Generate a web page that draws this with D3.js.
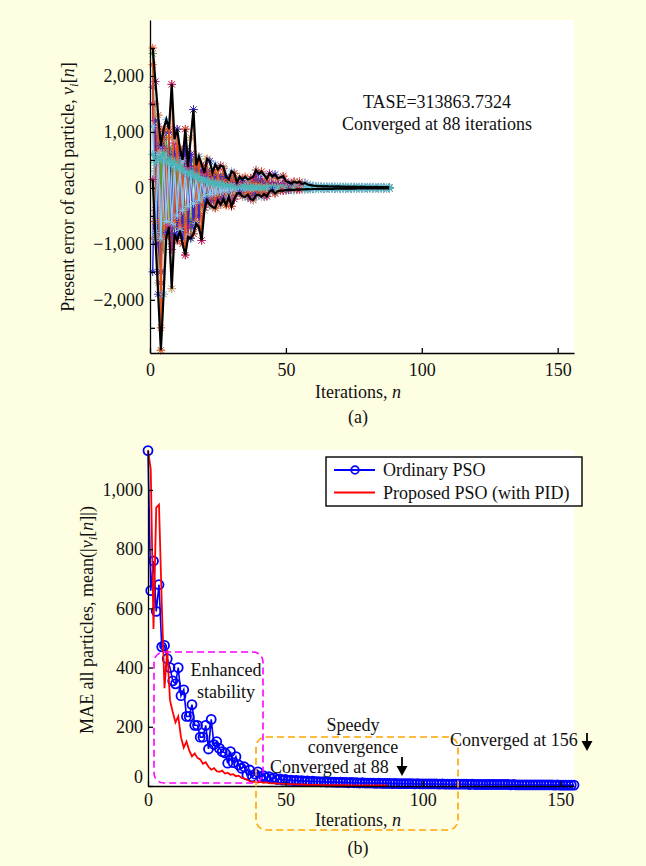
<!DOCTYPE html>
<html><head><meta charset="utf-8">
<script src="https://cdn.jsdelivr.net/npm/d3@7"></script>
<style>
html,body{margin:0;padding:0;background:#FEFEE2;}
svg{display:block;}
text{font-family:'Liberation Serif','Times New Roman',serif;font-size:18px;fill:#111;}
</style></head><body>
<svg id="c" width="646" height="866"></svg>
<script>
// ---------------- DATA (a): present error of each particle, iterations 1..88 ----------------
const pGreen = [2400,300,-1500,600,-1100,1000,-600,700,-820,500,
 -760,400,-600,300,-900,500,-640,400,-300,200,
 -220,300,-340,250,-220,200,-200,150,-160,200,
 -200,80,-90,100,-160,100,-200,150,-130,150,
 -160,100,-150,80,-40,60,-60,40,-50,30,
 -35,25,-40,20,-30,18,-28,15,-24,12,
 -20,10,-19,9,-17,8,-16,7,-15,6,
 -14,5,-13,5,-12,4,-11,4,-11,3,
 -10,3,-10,3,-9,2,-9,2];
const pTan = [-900,1500,-1700,-2900,-1900,600,-700,-1800,500,-700,
 600,-500,400,-500,300,-400,250,-300,200,-250,
 150,-150,100,-100,80,-80,60,-60,50,-50,
 40,-40,30,-30,25,-25,20,-20,15,-15,
 12,-12,10,-10,8,-8,6,-6,5,-5,
 4,-4,3,-3,3,-3,2,-2,2,-2,
 2,-2,1,-1,1,-1,1,-1,1,-1,
 1,-1,1,-1,1,-1,1,-1,1,-1,
 1,-1,1,-1,1,-1,1,-1];
const pPurple = [1800,-600,1100,-1700,1000,-880,1000,-1000,800,-900,
 600,-1000,600,-880,500,-820,380,-700,400,-400,
 300,-220,250,-250,200,-300,180,-200,120,-150,
 100,-100,150,-90,90,-160,80,-100,70,-90,
 60,-80,50,-60,40,-40,30,-50,30,-40,
 20,-30,20,-20,15,-15,10,-10,8,-8,
 6,-6,5,-5,4,-4,3,-3,3,-3,
 2,-2,2,-2,2,-2,1,-1,1,-1,
 1,-1,1,-1,1,-1,1,-1];
const pMagenta = [1500,-400,900,-1500,700,-880,1000,-1100,870,-940,
 700,-800,1050,-700,600,-650,300,-500,300,-300,
 200,-300,150,-280,200,-300,350,-200,100,-330,
 260,-60,100,-150,160,-120,170,-216,320,-100,
 290,-160,160,-60,200,-100,170,-50,210,-40,
 100,-30,110,-28,110,-25,90,-20,50,-15,
 30,-12,25,-10,20,-10,15,-8,12,-8,
 10,-6,8,-6,8,-5,6,-5,6,-4,
 5,-4,5,-3,4,-3,3,-2];
const pBlue = [-1500,1200,-1000,-1500,900,-800,1000,-700,600,-900,
 650,-900,700,-600,600,-700,350,-500,300,-350,
 300,-250,200,-200,200,-150,200,-120,100,-100,
 150,-60,100,-80,120,-80,100,-100,120,-80,
 100,-60,80,-40,60,-30,50,-30,40,-25,
 30,-20,30,-18,25,-15,20,-12,15,-10,
 12,-8,10,-7,9,-6,8,-5,7,-5,
 6,-4,5,-4,5,-3,4,-3,4,-3,
 3,-2,3,-2,2,-2,2,-1];
const pOrange = [2200,-600,1300,-2500,1050,-700,900,1850,-600,1050,
 -700,500,-1200,380,900,1400,-600,560,-940,270,
 520,-200,270,-360,330,-150,380,-310,150,-120,
 150,-80,120,-100,100,-80,90,-70,80,-60,
 60,-50,50,-40,40,-30,30,-25,25,-20,
 20,-15,15,-12,12,-10,10,-8,8,-6,
 6,-5,5,-4,4,-3,3,-3,3,-2,
 2,-2,2,-2,2,-1,1,-1,1,-1,
 1,-1,1,-1,1,-1,1,-1];
const pTeal = [600,450,550,500,620,450,520,400,480,350,
 420,300,350,250,300,200,230,150,180,120,
 130,90,100,60,80,50,60,40,45,30,
 35,20,30,15,25,10,20,5,15,0,
 10,-5,8,-4,6,-3,5,-2,4,-2,
 3,-2,3,-1,2,-1,2,-1,1,0,
 1,0,1,0,1,0,1,0,1,0,
 1,0,1,0,1,0,1,0,1,0,
 1,0,1,0,1,0,1,0];
const pLightBlue = [1100,-800,600,-900,550,-600,450,-650,400,-500,
 350,-400,300,-330,250,-280,200,-220,150,-160,
 120,-120,100,-90,80,-70,60,-50,45,-40,
 35,-30,25,-22,20,-18,15,-12,12,-10,
 10,-8,8,-7,6,-6,5,-5,4,-4,
 4,-3,3,-3,3,-2,2,-2,2,-2,
 2,-2,2,-1,1,-1,1,-1,1,-1,
 1,-1,1,-1,1,-1,1,-1,1,-1,
 1,-1,1,-1,1,-1,1,-1];
const upperEnv = [2500,1900,1300,750,1050,1220,1050,1850,870,1050,
 700,500,1050,380,900,1400,400,560,420,270,
 520,480,270,420,330,400,380,200,150,300,
 260,100,200,150,200,150,170,200,320,250,
 290,230,160,260,200,240,170,190,210,120,
 100,80,110,90,110,70,90,60,50,40,
 35,30,32,28,30,25,28,24,26,22,
 24,20,22,19,21,18,20,17,19,16,
 18,15,17,14,16,14,15,13];
const lowerEnv = [150,-900,-1900,-2900,-1900,-880,-700,-1800,-820,-940,
 -760,-1000,-1200,-880,-900,-820,-640,-700,-940,-400,
 -220,-300,-340,-360,-220,-300,-200,-310,-160,-330,
 -200,-100,-90,-150,-160,-120,-200,-216,-130,-120,
 -160,-110,-150,-60,-40,-100,-60,-50,-50,-40,
 -35,-30,-40,-28,-30,-25,-28,-22,-24,-20,
 -20,-18,-19,-16,-17,-15,-16,-14,-15,-13,
 -14,-12,-13,-12,-12,-11,-11,-10,-11,-10,
 -10,-9,-10,-9,-9,-8,-9,-8];
const particles = [pGreen,pTan,pPurple,pMagenta,pBlue,pOrange,pLightBlue,pTeal];
const particleColors = ["#5AA02C","#C9A57A","#7E2F8E","#B81E78","#2A2AD0","#E2531E","#85C8F0","#4BB5B5"];
const yTicksA = [-2000,-1000,0,1000,2000];
const yMinorA = [-2500,-1500,-500,500,1500,2500];
const xTicks = [0,50,100,150];
const textA = ["TASE=313863.7324","Converged at 88 iterations"];

// ---------------- DATA (b): MAE of all particles, iterations 0.. ----------------
const ordinaryPSO = [1133,660,760,590,680,470,475,430,400,355,
 345,400,305,325,235,235,275,205,205,165,
 165,205,125,225,140,150,127,116,112,77,
 116,79,99,71,60,65,37,54,31,40,
 48,31,35,28,32,25,28,22,24,20,
 22,19,20,18,19,17,18,16,17,15,
 16,15,15,14,15,13,14,13,13,12,
 13,12,12,11,12,11,11,10,11,10,
 10,10,10,9,10,9,9,9,9,8,
 9,8,8,8,8,8,8,7,8,7,
 7,7,7,7,7,7,6,7,6,6,
 6,6,6,6,6,6,6,5,6,5,
 5,5,5,5,5,5,5,5,5,5,
 5,5,4,5,4,4,4,4,4,4,
 4,4,4,4,4,4,4,4,3,4,
 3,3,3,3,3,3];
const proposedPSO = [1133,1070,530,940,950,620,330,460,290,250,
 215,235,165,130,150,120,100,110,95,90,
 75,80,65,55,60,50,48,52,42,45,
 38,40,33,35,28,25,22,16,14,15,
 12,14,11,12,10,9,10,8,8,7,
 7,6,6,6,5,5,5,5,4,4,
 4,4,4,4,3,3,3,3,3,3,
 3,3,3,2,2,2,2,2,2,2,
 2,2,2,2,2,2,2,2];
const yTicksB = [0,200,400,600,800,1000];
const legendLabels = ["Ordinary PSO","Proposed PSO (with PID)"];
const seriesColors = ["#0000FF","#FF0000"];

// ---------------- DRAW ----------------
const svg = d3.select("#c");
const font = "'Liberation Serif','Times New Roman',serif";
const fmt = d3.format(",");

function star(r){const a=r*0.72;return `M${-r},0L${r},0M0,${-r}L0,${r}M${-a},${-a}L${a},${a}M${-a},${a}L${a},${-a}`;}
function styleAxis(g){g.attr("font-family",font).attr("font-size",18);g.selectAll("path,line").attr("stroke","#000").attr("stroke-width",1.3);g.selectAll("text").attr("fill","#111");}

// ===== panel (a) =====
const xA = d3.scaleLinear().domain([0,156]).range([150,574]);
const yA = d3.scaleLinear().domain([-2950,3000]).range([353,20]);
svg.append("rect").attr("x",xA(0)).attr("y",yA(3000)).attr("width",xA(156)-xA(0)).attr("height",yA(-2950)-yA(3000)).attr("fill","#fff");

const gA = svg.append("g");
const lineA = d3.line().x((d,i)=>xA(i+1)).y(d=>yA(d));
particles.forEach((p,k)=>{
  gA.append("path").datum(p).attr("d",lineA).attr("fill","none").attr("stroke",particleColors[k]).attr("stroke-width",1.5);
  gA.append("g").selectAll("path").data(p).join("path")
    .attr("transform",(d,i)=>`translate(${xA(i+1)},${yA(d)})`)
    .attr("d",star(4.2)).attr("stroke",particleColors[k]).attr("stroke-width",1).attr("fill","none");
});
[upperEnv,lowerEnv].forEach((e,j)=>{
  gA.append("g").selectAll("path").data(e).join("path")
    .attr("transform",(d,i)=>`translate(${xA(i+1)},${yA(d)})`)
    .attr("d",star(4.2)).attr("stroke",(d,i)=>i>55?particleColors[6+(i%2)]:particleColors[[5,3,1,4,5,6][(i+j)%6]]).attr("stroke-width",1).attr("fill","none");
});
[upperEnv,lowerEnv].forEach(e=>{
  gA.append("path").datum(e).attr("d",lineA).attr("fill","none").attr("stroke","#000").attr("stroke-width",2.2);
});

const axAx = svg.append("g").attr("transform",`translate(0,${yA(-2950)})`)
  .call(d3.axisBottom(xA).tickValues(xTicks).tickSize(-5).tickSizeOuter(0).tickPadding(10));
styleAxis(axAx);
const axAy = svg.append("g").attr("transform",`translate(${xA(0)},0)`)
  .call(d3.axisLeft(yA).tickValues(yTicksA).tickFormat(fmt).tickSize(-5).tickSizeOuter(0).tickPadding(6));
styleAxis(axAy);
const axAm = svg.append("g").attr("transform",`translate(${xA(0)},0)`)
  .call(d3.axisLeft(yA).tickValues(yMinorA).tickFormat("").tickSize(-5).tickSizeOuter(0));
styleAxis(axAm); axAm.select(".domain").remove();

svg.append("text").attr("x",437).attr("y",108).attr("text-anchor","middle").text(textA[0]);
svg.append("text").attr("x",437).attr("y",130).attr("text-anchor","middle").text(textA[1]);

function xLabel(y){const t=svg.append("text").attr("x",358).attr("y",y).attr("text-anchor","middle");
  t.append("tspan").text("Iterations, ");t.append("tspan").attr("font-style","italic").text("n");}
xLabel(398);
svg.append("text").attr("x",358).attr("y",423).attr("text-anchor","middle").text("(a)");

const ylA = svg.append("text").attr("transform","translate(74,187) rotate(-90)").attr("text-anchor","middle");
ylA.append("tspan").text("Present error of each particle, ");
ylA.append("tspan").attr("font-style","italic").text("v");
ylA.append("tspan").attr("font-style","italic").attr("font-size",13).attr("dy",4).text("i");
ylA.append("tspan").attr("dy",-4).text("[");
ylA.append("tspan").attr("font-style","italic").text("n");
ylA.append("tspan").text("]");

// ===== panel (b) =====
const xB = d3.scaleLinear().domain([0,155]).range([148,574]);
const yB = d3.scaleLinear().domain([0,1135]).range([786,450]);
svg.append("rect").attr("x",xB(0)).attr("y",yB(1135)).attr("width",xB(155)-xB(0)).attr("height",yB(0)-yB(1135)).attr("fill","#fff");

const lineB = d3.line().x((d,i)=>xB(i)).y(d=>yB(d));
svg.append("path").datum(ordinaryPSO).attr("d",lineB).attr("fill","none").attr("stroke",seriesColors[0]).attr("stroke-width",1.6);
svg.append("g").selectAll("circle").data(ordinaryPSO).join("circle")
  .attr("cx",(d,i)=>xB(i)).attr("cy",d=>yB(d)).attr("r",4.5)
  .attr("fill","none").attr("stroke",seriesColors[0]).attr("stroke-width",1.8);
svg.append("path").datum(proposedPSO).attr("d",lineB).attr("fill","none").attr("stroke",seriesColors[1]).attr("stroke-width",1.8);

const axBx = svg.append("g").attr("transform",`translate(0,${yB(0)})`)
  .call(d3.axisBottom(xB).tickValues(xTicks).tickSize(-5).tickSizeOuter(0).tickPadding(7));
styleAxis(axBx);
const axBy = svg.append("g").attr("transform",`translate(${xB(0)},0)`)
  .call(d3.axisLeft(yB).tickValues(yTicksB).tickFormat(fmt).tickSize(-5).tickSizeOuter(0).tickPadding(5));
styleAxis(axBy);
axBy.selectAll(".tick text").filter(d=>d===0).attr("dy","-0.2em");

// annotation boxes
svg.append("rect").attr("x",154).attr("y",652).attr("width",109).attr("height",131).attr("rx",10)
  .attr("fill","none").attr("stroke","#FF00FF").attr("stroke-width",1.6).attr("stroke-dasharray","7,4");
svg.append("rect").attr("x",256).attr("y",737).attr("width",202).attr("height",93).attr("rx",10)
  .attr("fill","none").attr("stroke","#FFA500").attr("stroke-width",1.6).attr("stroke-dasharray","7,4");

svg.append("text").attr("x",226).attr("y",676).attr("text-anchor","middle").text("Enhanced");
svg.append("text").attr("x",226).attr("y",698).attr("text-anchor","middle").text("stability");
svg.append("text").attr("x",353).attr("y",731).attr("text-anchor","middle").text("Speedy");
svg.append("text").attr("x",353).attr("y",753).attr("text-anchor","middle").text("convergence");
svg.append("text").attr("x",270).attr("y",773).text("Converged at 88");
svg.append("text").attr("x",450).attr("y",746).text("Converged at 156");

function arrow(x,y1,y2){
  svg.append("line").attr("x1",x).attr("x2",x).attr("y1",y1).attr("y2",y2-8).attr("stroke","#000").attr("stroke-width",1.8);
  svg.append("path").attr("d",`M${x-5.5},${y2-10}L${x+5.5},${y2-10}L${x},${y2}Z`).attr("fill","#000");
}
arrow(402,757,776);
arrow(587,733,751);

xLabel(826);
svg.append("text").attr("x",358).attr("y",854).attr("text-anchor","middle").text("(b)");

const ylB = svg.append("text").attr("transform","translate(93,620) rotate(-90)").attr("text-anchor","middle");
ylB.append("tspan").text("MAE all particles, mean(|");
ylB.append("tspan").attr("font-style","italic").text("v");
ylB.append("tspan").attr("font-style","italic").attr("font-size",13).attr("dy",4).text("i");
ylB.append("tspan").attr("dy",-4).text("[");
ylB.append("tspan").attr("font-style","italic").text("n");
ylB.append("tspan").text("]|)");

// legend
const lg = svg.append("g");
lg.append("rect").attr("x",326).attr("y",457).attr("width",256).attr("height",49).attr("fill","#fff").attr("stroke","#000").attr("stroke-width",1.4);
const lgY = [470,492.5];
legendLabels.forEach((l,i)=>{
  lg.append("line").attr("x1",334).attr("x2",375).attr("y1",lgY[i]).attr("y2",lgY[i]).attr("stroke",seriesColors[i]).attr("stroke-width",1.8);
  if(i===0) lg.append("circle").attr("cx",355).attr("cy",lgY[i]).attr("r",3.8).attr("fill","none").attr("stroke",seriesColors[i]).attr("stroke-width",1.8);
  lg.append("text").attr("x",383).attr("y",lgY[i]+6).text(l);
});
</script>
</body></html>
